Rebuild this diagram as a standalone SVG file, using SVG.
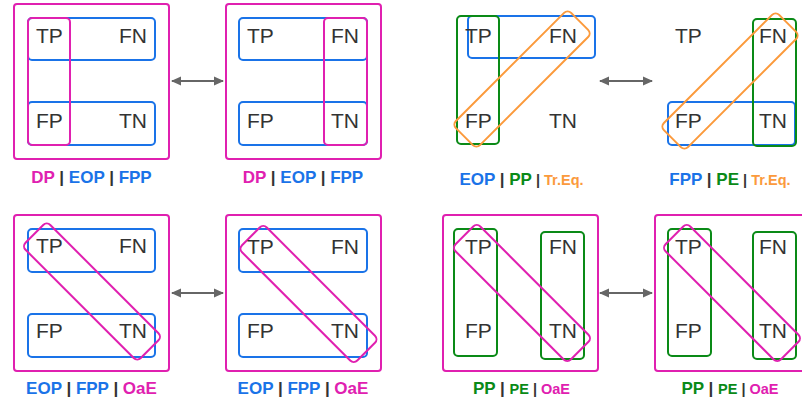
<svg xmlns="http://www.w3.org/2000/svg" width="802" height="404" viewBox="0 0 802 404">
<defs>
<style>
.mg{fill:none;stroke:#e020b0;stroke-width:2}
.bl{fill:none;stroke:#1a73e8;stroke-width:2}
.gr{fill:none;stroke:#0a8a17;stroke-width:2}
.or{fill:none;stroke:#fb9a3c;stroke-width:2}
.t{font-family:"Liberation Sans",Arial,sans-serif;font-size:21px;fill:#333}
.lb{font-family:"Liberation Sans",Arial,sans-serif;font-size:17px;font-weight:bold;text-anchor:middle}
.cm{fill:#e020b0}.cb{fill:#1a73e8}.cg{fill:#0a8a17}.co{fill:#fb9a3c}.cs{fill:#333}
.sm{font-size:14.5px}
.ar{stroke:#666;stroke-width:2;fill:none}
</style>
<marker id="ah" viewBox="0 0 10 10" refX="9" refY="5" markerWidth="10" markerHeight="10" markerUnits="userSpaceOnUse" orient="auto-start-reverse">
<path d="M0,0.5 L10,5 L0,9.5 Z" fill="#666"/>
</marker>
</defs>

<g id="panel1">
<rect class="mg" x="14" y="4" width="155" height="155" rx="3"/>
<rect class="bl" x="28" y="18" width="127" height="42" rx="4"/>
<rect class="bl" x="28" y="102" width="127" height="43" rx="4"/>
<rect class="mg" x="28" y="18" width="42" height="127" rx="4"/>
<text class="t" x="36" y="43">TP</text>
<text class="t" x="147" y="43" text-anchor="end">FN</text>
<text class="t" x="36" y="128">FP</text>
<text class="t" x="147" y="128" text-anchor="end">TN</text>
<text class="lb" x="91.5" y="183"><tspan class="cm">DP</tspan><tspan class="cs"> | </tspan><tspan class="cb">EOP</tspan><tspan class="cs"> | </tspan><tspan class="cb">FPP</tspan></text>
</g>

<g id="panel2">
<rect class="mg" x="226" y="4" width="155" height="155" rx="3"/>
<rect class="bl" x="239" y="18" width="128" height="42" rx="4"/>
<rect class="bl" x="239" y="102" width="128" height="43" rx="4"/>
<rect class="mg" x="324" y="18" width="43" height="127" rx="4"/>
<text class="t" x="247" y="43">TP</text>
<text class="t" x="359" y="43" text-anchor="end">FN</text>
<text class="t" x="247" y="128">FP</text>
<text class="t" x="359" y="128" text-anchor="end">TN</text>
<text class="lb" x="303" y="183"><tspan class="cm">DP</tspan><tspan class="cs"> | </tspan><tspan class="cb">EOP</tspan><tspan class="cs"> | </tspan><tspan class="cb">FPP</tspan></text>
</g>

<g id="panel3">
<rect class="bl" x="468" y="16" width="127" height="42" rx="4"/>
<rect class="gr" x="457" y="16" width="42" height="128" rx="4"/>
<rect class="or" x="440.5" y="62" width="163" height="34" rx="5" transform="rotate(-45 522 79)"/>
<text class="t" x="465" y="43">TP</text>
<text class="t" x="549" y="43">FN</text>
<text class="t" x="465" y="128">FP</text>
<text class="t" x="549" y="128">TN</text>
<text class="lb" x="521.5" y="185"><tspan class="cb">EOP</tspan><tspan class="cs"> | </tspan><tspan class="cg">PP</tspan><tspan class="cs sm"> | </tspan><tspan class="co sm">Tr.Eq.</tspan></text>
</g>

<g id="panel4">
<rect class="bl" x="668" y="102" width="127" height="43" rx="4"/>
<rect class="gr" x="753" y="19" width="43" height="127" rx="4"/>
<rect class="or" x="648.5" y="64" width="163" height="34" rx="5" transform="rotate(-45 730 81)"/>
<text class="t" x="675" y="43">TP</text>
<text class="t" x="759" y="43">FN</text>
<text class="t" x="675" y="128">FP</text>
<text class="t" x="759" y="128">TN</text>
<text class="lb" x="730" y="185"><tspan class="cb">FPP</tspan><tspan class="cs"> | </tspan><tspan class="cg">PE</tspan><tspan class="cs sm"> | </tspan><tspan class="co sm">Tr.Eq.</tspan></text>
</g>

<g id="panel5">
<rect class="mg" x="14" y="215" width="155" height="156" rx="3"/>
<rect class="bl" x="28" y="229" width="127" height="43" rx="4"/>
<rect class="bl" x="28" y="314" width="127" height="43" rx="4"/>
<rect class="mg" x="10.5" y="274" width="163" height="35" rx="5" transform="rotate(45 92 291.5)"/>
<text class="t" x="36" y="253">TP</text>
<text class="t" x="147" y="253" text-anchor="end">FN</text>
<text class="t" x="36" y="338">FP</text>
<text class="t" x="147" y="338" text-anchor="end">TN</text>
<text class="lb" x="91.5" y="394"><tspan class="cb">EOP</tspan><tspan class="cs"> | </tspan><tspan class="cb">FPP</tspan><tspan class="cs"> | </tspan><tspan class="cm">OaE</tspan></text>
</g>

<g id="panel6">
<rect class="mg" x="226" y="215" width="155" height="156" rx="3"/>
<rect class="bl" x="239" y="229" width="128" height="43" rx="4"/>
<rect class="bl" x="239" y="314" width="128" height="43" rx="4"/>
<rect class="mg" x="227" y="276.5" width="163" height="35" rx="5" transform="rotate(45 308.5 294)"/>
<text class="t" x="247" y="254">TP</text>
<text class="t" x="359" y="254" text-anchor="end">FN</text>
<text class="t" x="247" y="338">FP</text>
<text class="t" x="359" y="338" text-anchor="end">TN</text>
<text class="lb" x="303" y="394"><tspan class="cb">EOP</tspan><tspan class="cs"> | </tspan><tspan class="cb">FPP</tspan><tspan class="cs"> | </tspan><tspan class="cm">OaE</tspan></text>
</g>

<g id="panel7">
<rect class="mg" x="443" y="215" width="155" height="156" rx="3"/>
<rect class="gr" x="454" y="229" width="43" height="127" rx="4"/>
<rect class="gr" x="541" y="232" width="43" height="127" rx="4"/>
<rect class="mg" x="440.5" y="275.5" width="163" height="35" rx="5" transform="rotate(45 522 293)"/>
<text class="t" x="465" y="254">TP</text>
<text class="t" x="549" y="254">FN</text>
<text class="t" x="465" y="338">FP</text>
<text class="t" x="549" y="338">TN</text>
<text class="lb" x="521.5" y="394"><tspan class="cg">PP</tspan><tspan class="cs"> | </tspan><tspan class="cg sm">PE</tspan><tspan class="cs sm"> | </tspan><tspan class="cm sm">OaE</tspan></text>
</g>

<g id="panel8">
<rect class="mg" x="655" y="215" width="155" height="156" rx="3"/>
<rect class="gr" x="668" y="229" width="43" height="127" rx="4"/>
<rect class="gr" x="753" y="232" width="43" height="127" rx="4"/>
<rect class="mg" x="650.5" y="275.5" width="163" height="35" rx="5" transform="rotate(45 732 293)"/>
<text class="t" x="675" y="254">TP</text>
<text class="t" x="759" y="254">FN</text>
<text class="t" x="675" y="338">FP</text>
<text class="t" x="759" y="338">TN</text>
<text class="lb" x="730" y="394"><tspan class="cg">PP</tspan><tspan class="cs"> | </tspan><tspan class="cg sm">PE</tspan><tspan class="cs sm"> | </tspan><tspan class="cm sm">OaE</tspan></text>
</g>

<g id="connectors">
<line class="ar" x1="172" y1="81" x2="223" y2="81" marker-start="url(#ah)" marker-end="url(#ah)"/>
<line class="ar" x1="600" y1="81" x2="652" y2="81" marker-start="url(#ah)" marker-end="url(#ah)"/>
<line class="ar" x1="172" y1="293" x2="223" y2="293" marker-start="url(#ah)" marker-end="url(#ah)"/>
<line class="ar" x1="600" y1="293" x2="652" y2="293" marker-start="url(#ah)" marker-end="url(#ah)"/>
</g>
</svg>
